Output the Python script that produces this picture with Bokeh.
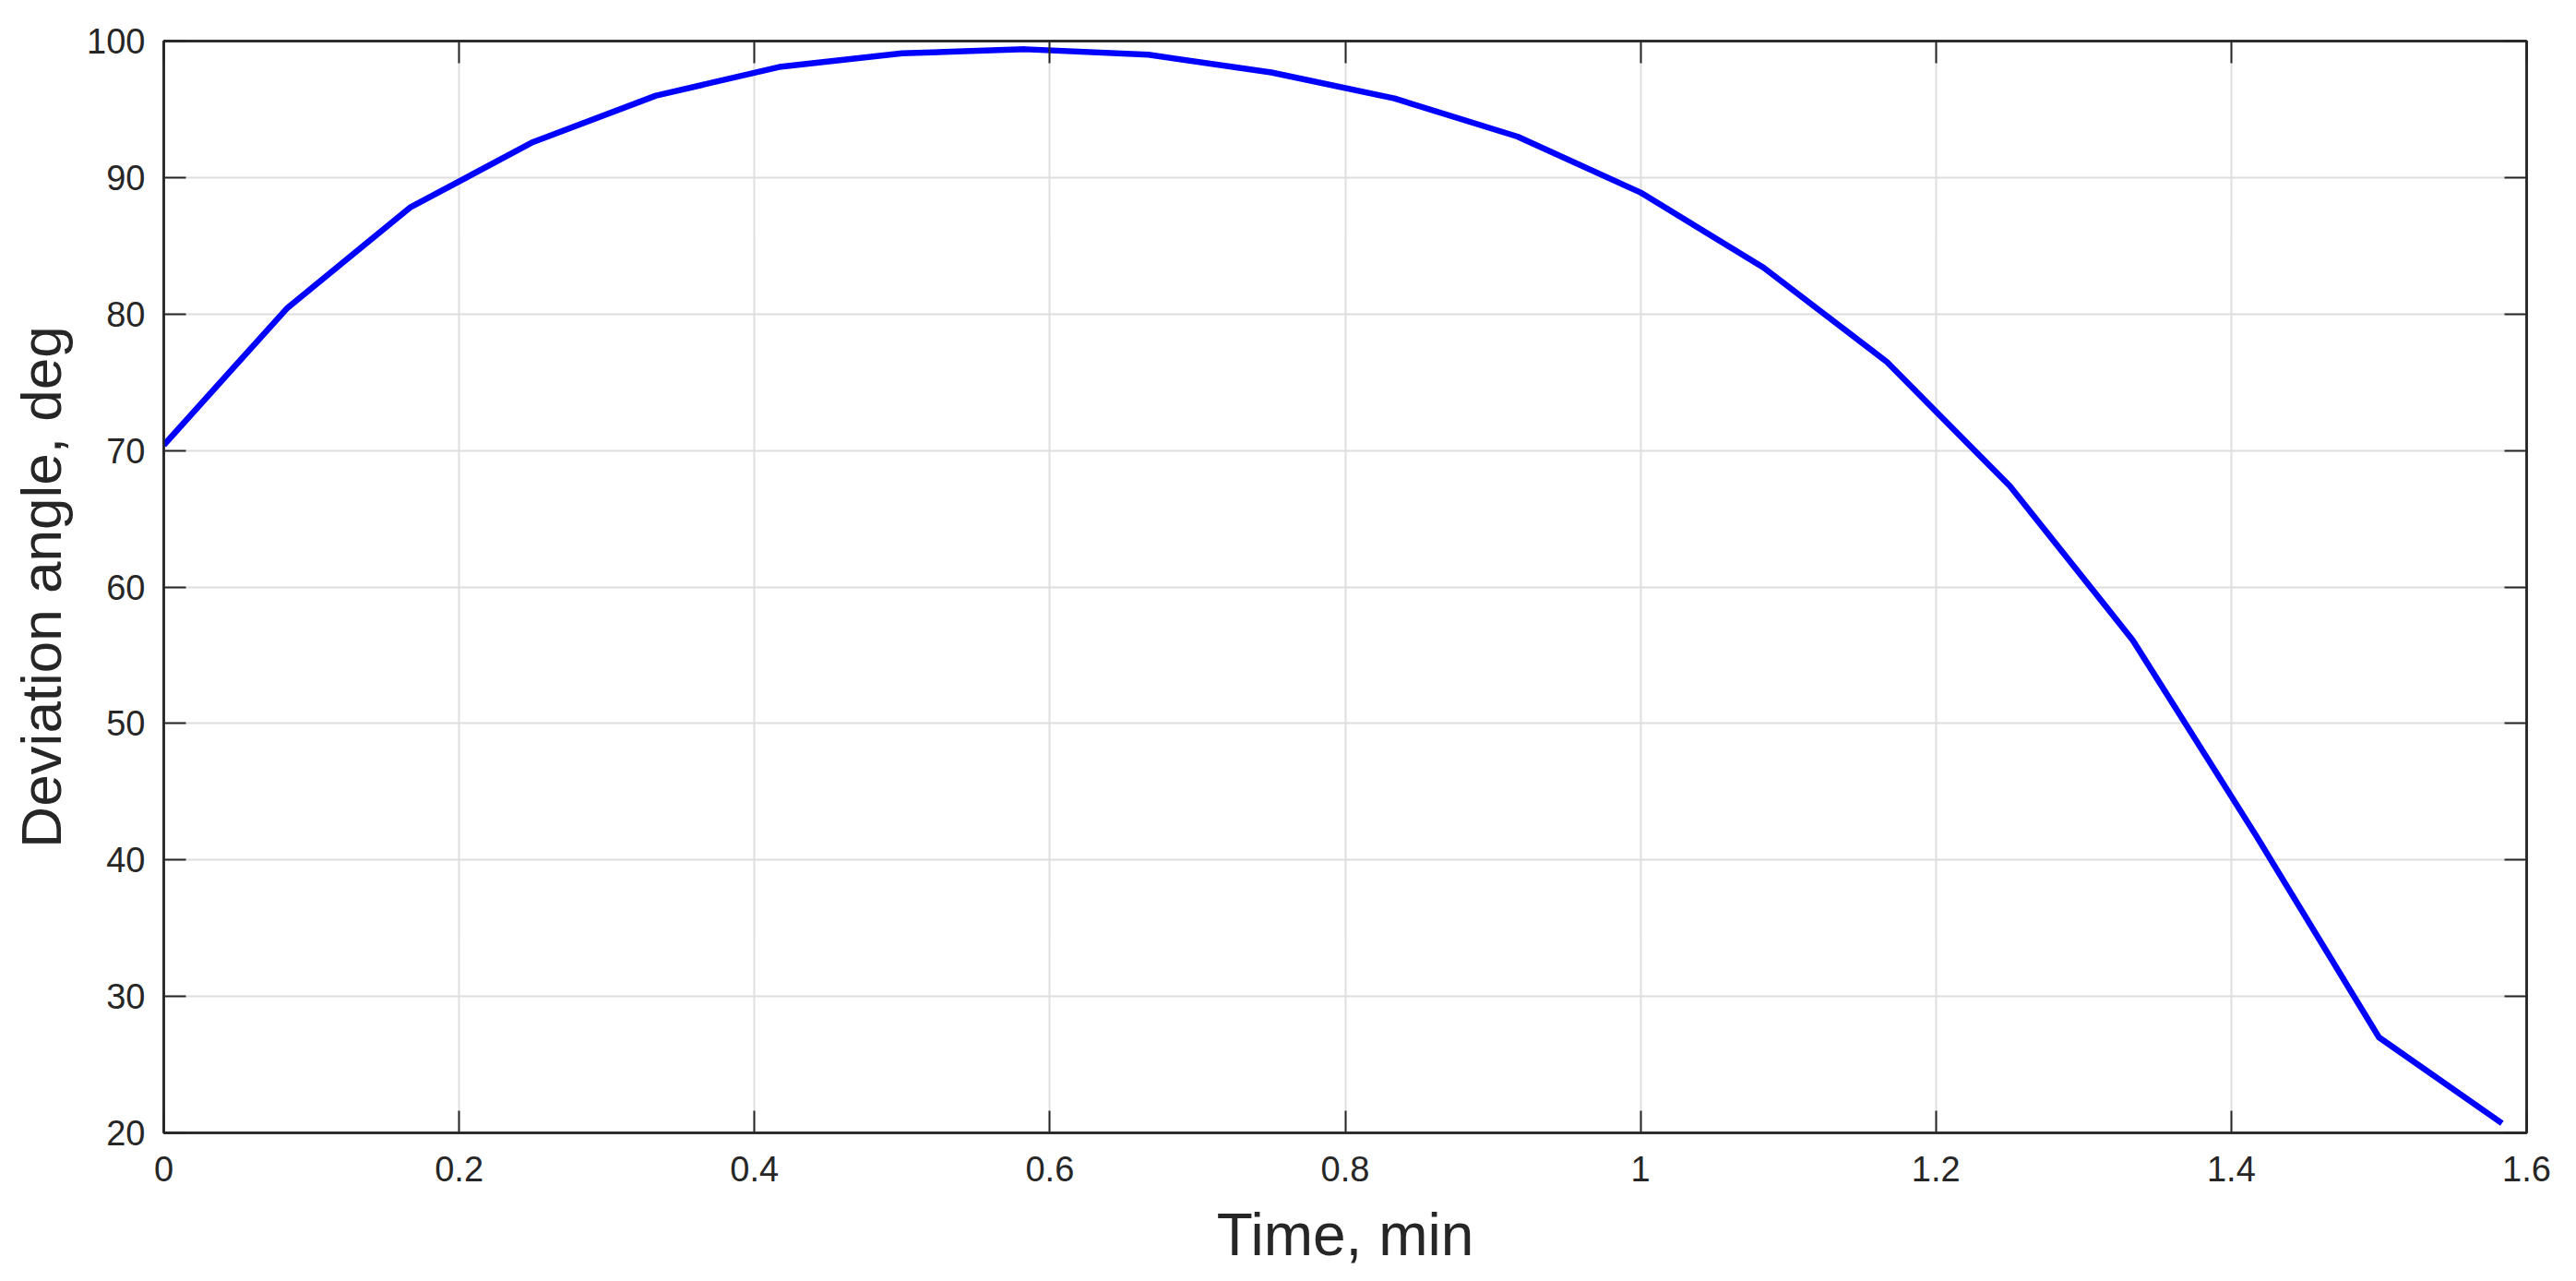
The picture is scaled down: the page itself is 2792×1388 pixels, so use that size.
from bokeh.plotting import figure
from bokeh.models import Range1d, LinearAxis, FixedTicker
from bokeh.embed import file_html
from bokeh.resources import INLINE

# ---- data ----
time_min = [0.0, 0.0833, 0.1667, 0.25, 0.3333, 0.4167, 0.5, 0.5833, 0.6667, 0.75,
            0.8333, 0.9167, 1.0, 1.0833, 1.1667, 1.25, 1.3333, 1.4167, 1.5, 1.5833]
deviation_deg = [70.4, 80.4, 87.8, 92.6, 96.0, 98.1, 99.1, 99.4, 99.0, 97.7,
                 95.8, 93.0, 88.9, 83.4, 76.5, 67.4, 56.1, 41.8, 27.0, 20.7]

x_ticks = [0, 0.2, 0.4, 0.6, 0.8, 1.0, 1.2, 1.4, 1.6]
x_tick_labels = ["0", "0.2", "0.4", "0.6", "0.8", "1", "1.2", "1.4", "1.6"]
y_ticks = [20, 30, 40, 50, 60, 70, 80, 90, 100]
y_tick_labels = ["20", "30", "40", "50", "60", "70", "80", "90", "100"]

x_label = "Time, min"
y_label = "Deviation angle, deg"

# ---- style ----
FONT = "Liberation Sans"
DARK = "#262626"
TICK_FS = "38px"

p = figure(
    output_backend="svg", toolbar_location=None,
    frame_width=2561, frame_height=1183,
    min_border_left=177, min_border_top=44, min_border_right=30, min_border_bottom=140,
    x_range=Range1d(0, 1.6), y_range=Range1d(20, 100),
    background_fill_color="white", border_fill_color="white",
)

p.line(time_min, deviation_deg, line_color="#0000ff", line_width=6.5)

p.outline_line_color = DARK
p.outline_line_width = 2.5

# main axes
xa = p.xaxis[0]
ya = p.yaxis[0]
xa.ticker = FixedTicker(ticks=x_ticks)
ya.ticker = FixedTicker(ticks=y_ticks)
xa.major_label_overrides = {t: l for t, l in zip(x_ticks, x_tick_labels)}
ya.major_label_overrides = {t: l for t, l in zip(y_ticks, y_tick_labels)}
xa.axis_label = x_label
ya.axis_label = y_label

for ax in (xa, ya):
    ax.axis_line_color = DARK
    ax.axis_line_width = 2.5
    ax.major_tick_line_color = DARK
    ax.major_tick_line_width = 2
    ax.major_tick_in = 24
    ax.major_tick_out = 0
    ax.minor_tick_line_color = None
    ax.major_label_text_font = FONT
    ax.major_label_text_font_size = TICK_FS
    ax.major_label_text_color = DARK
    ax.axis_label_text_font = FONT
    ax.axis_label_text_font_style = "normal"
    ax.axis_label_text_color = DARK

xa.axis_label_text_font_size = "64px"
ya.axis_label_text_font_size = "62px"
xa.major_label_standoff = 25
ya.major_label_standoff = 20
xa.axis_label_standoff = 19
ya.axis_label_standoff = 12

# mirrored ticks on top and right (box on)
top = LinearAxis(ticker=FixedTicker(ticks=x_ticks))
right = LinearAxis(ticker=FixedTicker(ticks=y_ticks))
for ax in (top, right):
    ax.axis_line_color = DARK
    ax.axis_line_width = 2.5
    ax.major_tick_line_color = DARK
    ax.major_tick_line_width = 2
    ax.major_tick_in = 24
    ax.major_tick_out = 0
    ax.minor_tick_line_color = None
    ax.major_label_text_color = None
    ax.major_label_text_font_size = "1px"
    ax.major_label_standoff = 0
p.add_layout(top, "above")
p.add_layout(right, "right")

# grid
for g in (p.xgrid[0], p.ygrid[0]):
    g.grid_line_color = "#dedede"
    g.grid_line_width = 2
p.xgrid[0].ticker = FixedTicker(ticks=x_ticks)
p.ygrid[0].ticker = FixedTicker(ticks=y_ticks)

open("out.html", "w").write(file_html(p, INLINE))
